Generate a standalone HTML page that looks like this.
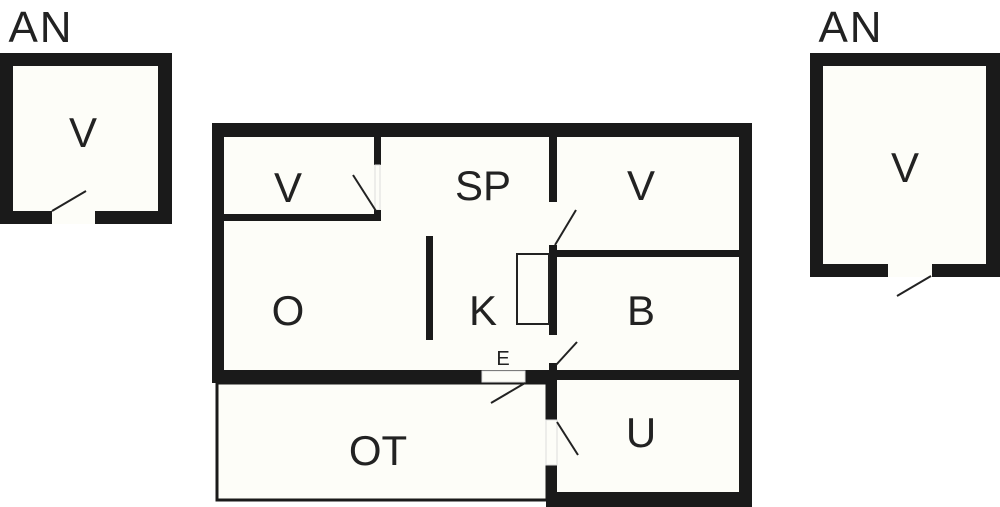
<!DOCTYPE html>
<html><head><meta charset="utf-8"><style>
html,body{margin:0;padding:0;background:#fff;}
svg{display:block;}
text{font-family:"Liberation Sans",sans-serif;fill:#222;text-anchor:middle;}
</style></head><body>
<svg width="1000" height="507" viewBox="0 0 1000 507">
<!-- left AN -->
<rect x="0" y="53" width="172" height="171" fill="#1a1a1a"/>
<rect x="13" y="66" width="145" height="145" fill="#fdfdf8"/>
<rect x="52" y="211" width="43" height="13" fill="#fdfdf8"/>
<line x1="52" y1="211" x2="86" y2="191" stroke="#222" stroke-width="2"/>
<text x="41" y="42" font-size="44" letter-spacing="2">AN</text>
<text x="83" y="147" font-size="42">V</text>

<!-- right AN -->
<rect x="810" y="53" width="190" height="224" fill="#1a1a1a"/>
<rect x="823" y="66" width="163" height="198" fill="#fdfdf8"/>
<rect x="888" y="264" width="44" height="13" fill="#fdfdf8"/>
<line x1="897" y1="296" x2="931" y2="276" stroke="#222" stroke-width="2"/>
<text x="851" y="42" font-size="44" letter-spacing="2">AN</text>
<text x="905" y="182" font-size="42">V</text>

<!-- main -->
<rect x="212" y="123" width="540" height="260" fill="#1a1a1a"/>
<rect x="546" y="370" width="206" height="137" fill="#1a1a1a"/>
<rect x="224" y="137" width="515" height="233" fill="#fdfdf8"/>
<!-- OT -->
<rect x="217" y="383" width="330" height="117" fill="#fdfdf8" stroke="#1a1a1a" stroke-width="3"/>
<rect x="557" y="380" width="182" height="112" fill="#fdfdf8"/>
<!-- inner walls -->
<rect x="374" y="137" width="7" height="28" fill="#1a1a1a"/>
<rect x="375" y="165" width="5" height="45" fill="#fdfdf8" stroke="#ddd" stroke-width="1"/>
<rect x="224" y="214" width="157" height="7" fill="#1a1a1a"/>
<rect x="374" y="210" width="7" height="11" fill="#1a1a1a"/>
<line x1="353" y1="175" x2="376" y2="211" stroke="#222" stroke-width="2"/>

<rect x="549" y="137" width="8" height="65" fill="#1a1a1a"/>
<rect x="549" y="245" width="8" height="90" fill="#1a1a1a"/>
<rect x="557" y="250" width="182" height="7" fill="#1a1a1a"/>
<rect x="549" y="363" width="8" height="57" fill="#1a1a1a"/>
<rect x="546" y="465" width="11" height="42" fill="#1a1a1a"/>
<rect x="546" y="420" width="11" height="45" fill="#fdfdf8" stroke="#ddd" stroke-width="1"/>
<rect x="557" y="373" width="182" height="7" fill="#1a1a1a"/>
<rect x="212" y="370" width="270" height="13" fill="#1a1a1a"/>
<rect x="525" y="370" width="32" height="13" fill="#1a1a1a"/>
<rect x="482" y="371" width="43" height="11" fill="#fdfdf8" stroke="#ddd" stroke-width="1"/>

<rect x="517" y="254" width="32" height="70" fill="none" stroke="#222" stroke-width="2"/>
<rect x="426" y="236" width="7" height="104" fill="#1a1a1a"/>

<line x1="555" y1="245" x2="576" y2="210" stroke="#222" stroke-width="2"/>
<line x1="556" y1="365" x2="577" y2="342" stroke="#222" stroke-width="2"/>
<line x1="525" y1="383" x2="491" y2="403" stroke="#222" stroke-width="2"/>
<line x1="557" y1="422" x2="578" y2="455" stroke="#222" stroke-width="2"/>

<text x="288" y="202" font-size="42">V</text>
<text x="483" y="200" font-size="42">SP</text>
<text x="641" y="200" font-size="42">V</text>
<text x="288" y="325" font-size="42">O</text>
<text x="483" y="325" font-size="42">K</text>
<text x="641" y="325" font-size="42">B</text>
<text x="503" y="365" font-size="20">E</text>
<text x="378" y="465" font-size="42">OT</text>
<text x="641" y="447" font-size="42">U</text>
</svg>
</body></html>
